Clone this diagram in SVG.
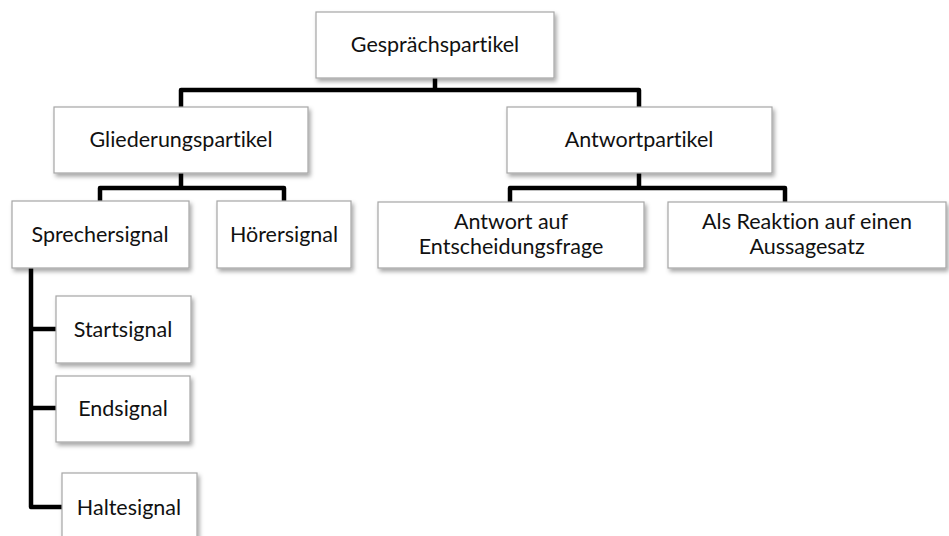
<svg xmlns="http://www.w3.org/2000/svg" width="949" height="536" viewBox="0 0 949 536">
  <style>
    .box { fill: #ffffff; stroke: #a6a6a6; stroke-width: 1.2; filter: url(#shadow); }
    .label { font-family: Lato, "Liberation Sans", sans-serif; font-size: 21.5px; fill: #111111; text-anchor: middle; font-variant-ligatures: none; }
    .wire { fill: none; stroke: #000000; stroke-width: 4.5; stroke-linejoin: round; stroke-linecap: butt; }
  </style>
  <defs>
    <filter id="shadow" x="-10%" y="-10%" width="130%" height="140%">
      <feDropShadow dx="2" dy="3" stdDeviation="2" flood-color="#000000" flood-opacity="0.35"/>
    </filter>
  </defs>
  <rect width="949" height="536" fill="#ffffff"/>

  <!-- tree connectors -->
  <g id="connectors">
    <path class="wire" d="M435 78 V90 M181 107 V90 H639 V107"/>
    <path class="wire" d="M181 173 V188 M100 201 V188 H284 V201"/>
    <path class="wire" d="M639 173 V188 M510 202 V188 H785 V202"/>
    <path class="wire" d="M31 268 V507 H62 M31 329 H56 M31 408 H56"/>
  </g>

  <g id="gespraechspartikel">
    <rect class="box" x="316" y="12" width="238" height="66"/>
    <text class="label" x="435" y="52">Gesprächspartikel</text>
  </g>
  <g id="gliederungspartikel">
    <rect class="box" x="54" y="107" width="254" height="66"/>
    <text class="label" x="181" y="147">Gliederungspartikel</text>
  </g>
  <g id="antwortpartikel">
    <rect class="box" x="507" y="107" width="265" height="66"/>
    <text class="label" x="639" y="147">Antwortpartikel</text>
  </g>
  <g id="sprechersignal">
    <rect class="box" x="12" y="201" width="177" height="67"/>
    <text class="label" x="100" y="242">Sprechersignal</text>
  </g>
  <g id="hoerersignal">
    <rect class="box" x="217" y="201" width="134" height="67"/>
    <text class="label" x="284" y="242">Hörersignal</text>
  </g>
  <g id="antwort-entscheidungsfrage">
    <rect class="box" x="378" y="202" width="266" height="66"/>
    <text class="label" x="511" y="229">Antwort auf</text>
    <text class="label" x="511" y="254">Entscheidungsfrage</text>
  </g>
  <g id="reaktion-aussagesatz">
    <rect class="box" x="668" y="202" width="278" height="66"/>
    <text class="label" x="807" y="229">Als Reaktion auf einen</text>
    <text class="label" x="807" y="254">Aussagesatz</text>
  </g>
  <g id="startsignal">
    <rect class="box" x="56" y="296" width="135" height="67"/>
    <text class="label" x="123" y="337">Startsignal</text>
  </g>
  <g id="endsignal">
    <rect class="box" x="56" y="376" width="134" height="66"/>
    <text class="label" x="123" y="416">Endsignal</text>
  </g>
  <g id="haltesignal">
    <rect class="box" x="62" y="473" width="135" height="70"/>
    <text class="label" x="129" y="515">Haltesignal</text>
  </g>
</svg>
